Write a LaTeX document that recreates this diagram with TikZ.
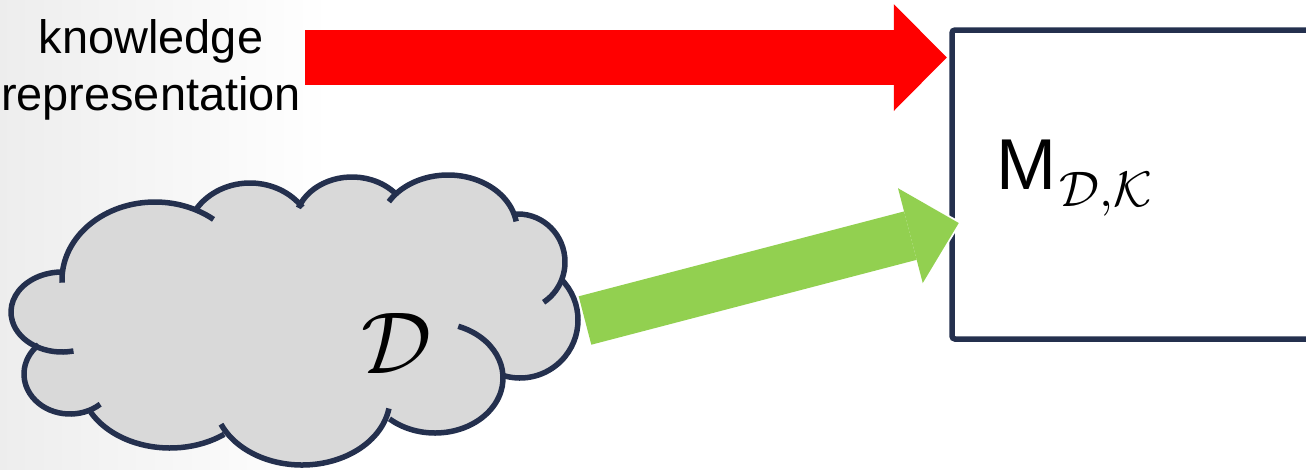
\documentclass[tikz,border=0pt]{standalone}
\usepackage{amssymb,amsmath}
\usepackage{fontspec}
\setmainfont{Liberation Sans}
\usetikzlibrary{arrows.meta,positioning}
\definecolor{clnavy}{RGB}{36,48,78}
\definecolor{clred}{RGB}{255,0,0}
\definecolor{clgreen}{RGB}{146,208,80}
\definecolor{clcloud}{RGB}{217,217,217}
\tikzset{
  cloudfill/.style={fill=clcloud},
  cloudline/.style={draw=clnavy, line width=1.1mm},
  mbox/.style={draw=clnavy, line width=1.1mm, fill=white, rounded corners=0.6mm,
    minimum width=84mm, minimum height=61.8mm},
  mlabel/.style={inner sep=0pt, font=\fontsize{41}{48}\selectfont},
  dlabel/.style={inner sep=0pt},
  krlabel/.style={inner sep=0pt, align=center, font=\fontsize{26.7}{32.4}\selectfont},
  krarrow/.style={draw=clred, line width=11mm,
    -{Triangle[length=10.6mm, width=21.4mm, line width=0pt]}},
  dkarrow/.style={draw=clgreen, line width=10mm,
    -{Triangle[length=10mm, width=19.6mm, line width=0pt]},
    preaction={draw=white, line width=10.8mm, shorten >=-0.6mm,
      -{Triangle[length=11.2mm, width=21.2mm, line width=0pt]}}}
}

\begin{document}
\begin{tikzpicture}[x=0.2mm,y=-0.2mm]
  \useasboundingbox (0,0) rectangle (1306,469);
  \clip (0,0) rectangle (1306,469);
  \shade[left color=black!7, right color=white] (0,0) rectangle (330,469);
  % cloud
  \fill[cloudfill] (155,280) -- (250,240) -- (352,224) -- (448,230) -- (518,262) -- (520,320)
    -- (435,378) -- (302,398) -- (170,380) -- (70,372) -- (62,312) -- cycle;
  \fill[cloudfill] (155,280) ellipse[x radius=93, y radius=78];
  \fill[cloudfill] (250,240) ellipse[x radius=64, y radius=57];
  \fill[cloudfill] (352,224) ellipse[x radius=57, y radius=47];
  \fill[cloudfill] (448,230) ellipse[x radius=69, y radius=55];
  \fill[cloudfill] (518,262) ellipse[x radius=47, y radius=48];
  \fill[cloudfill] (520,320) ellipse[x radius=58, y radius=58];
  \fill[cloudfill] (435,378) ellipse[x radius=68, y radius=55];
  \fill[cloudfill] (302,398) ellipse[x radius=88, y radius=67];
  \fill[cloudfill] (170,380) ellipse[x radius=90, y radius=68];
  \fill[cloudfill] (70,374) ellipse[x radius=46, y radius=40];
  \fill[cloudfill] (62,312) ellipse[x radius=51, y radius=40];
  \draw[cloudline] (155,280) ++(178:93 and 78) arc[start angle=178, end angle=309, x radius=93, y radius=78];
  \draw[cloudline] (250,240) ++(212:64 and 57) arc[start angle=212, end angle=325, x radius=64, y radius=57];
  \draw[cloudline] (352,224) ++(200:57 and 47) arc[start angle=200, end angle=320, x radius=57, y radius=47];
  \draw[cloudline] (448,230) ++(211:69 and 55) arc[start angle=211, end angle=351, x radius=69, y radius=55];
  \draw[cloudline] (518,262) ++(264:47 and 48) arc[start angle=264, end angle=417, x radius=47, y radius=48];
  \draw[cloudline] (520,320) ++(315:58 and 58) arc[start angle=315, end angle=466, x radius=58, y radius=58];
  \draw[cloudline] (435,378) ++(290:68 and 55) arc[start angle=290, end angle=492, x radius=68, y radius=55];
  \draw[cloudline] (302,398) ++(9:88 and 67) arc[start angle=9, end angle=157, x radius=88, y radius=67];
  \draw[cloudline] (170,380) ++(53:90 and 68) arc[start angle=53, end angle=152, x radius=90, y radius=68];
  \draw[cloudline] (70,374) ++(49:46 and 40) arc[start angle=49, end angle=227, x radius=46, y radius=40];
  \draw[cloudline] (62,312) ++(77:51 and 40) arc[start angle=77, end angle=270, x radius=51, y radius=40];
  \node[dlabel] (data) at (397,343) {\scalebox{5}{$\mathcal{D}$}};
  % model box
  \node[mbox] (box) at (1162,184.5) {};
  \node[mlabel, right=9.4mm of box.west, yshift=1.3mm] (mlab)
    {M\kern0.6mm\raisebox{-3.4mm}{\scalebox{2.84}{\normalsize$\mathcal{D}{,}\mathcal{K}$}}};
  \node[krlabel] (kr) at (151,69.5) {knowledge\\representation};
  \coordinate (rstart) at ([shift={(154,-12)}]kr.center);
  \coordinate (gstart) at ([shift={(188,-22.5)}]data.center);
  \draw[krarrow, shorten >=0.5mm] (rstart) -- (box.west |- rstart);
  \draw[dkarrow] (gstart) -- ([shift={(9.5,38.5)}]box.west);
\end{tikzpicture}
\end{document}
